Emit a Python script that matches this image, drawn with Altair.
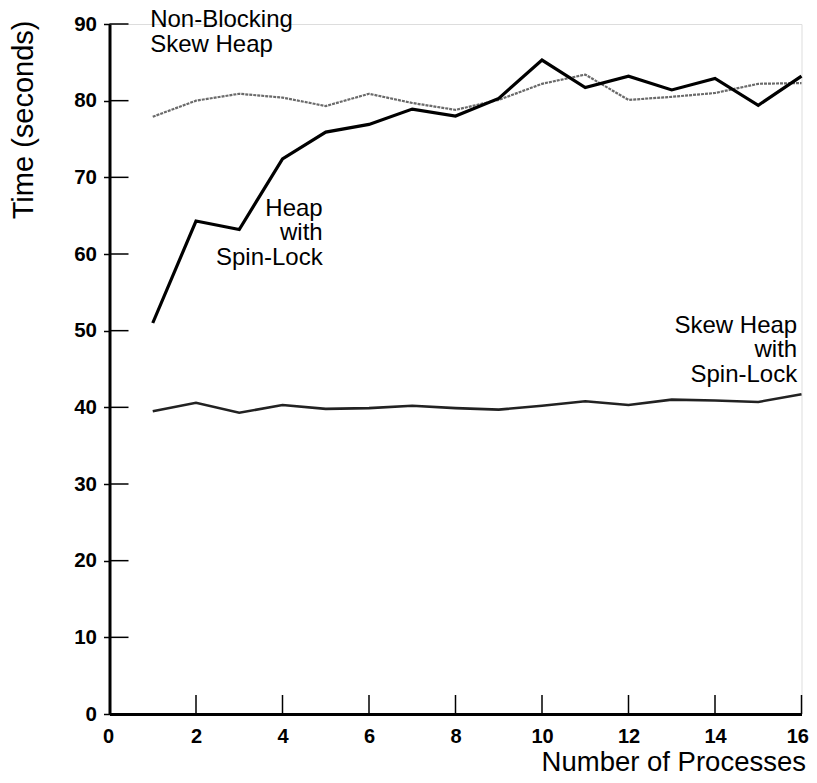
import altair as alt
import pandas as pd

# ---- data ----
processes = list(range(1, 17))
heap_spin = [51.0, 64.3, 63.2, 72.4, 75.9, 76.9, 78.9, 78.0, 80.3, 85.3, 81.7, 83.2, 81.4, 82.9, 79.4, 83.2]
nonblocking = [77.9, 80.0, 80.9, 80.4, 79.3, 80.9, 79.7, 78.8, 80.1, 82.2, 83.4, 80.1, 80.5, 81.0, 82.2, 82.3]
skew_spin = [39.5, 40.6, 39.3, 40.3, 39.8, 39.9, 40.2, 39.9, 39.7, 40.2, 40.8, 40.3, 41.0, 40.9, 40.7, 41.7]

y_ticks = [0, 10, 20, 30, 40, 50, 60, 70, 80, 90]
x_ticks = [0, 2, 4, 6, 8, 10, 12, 14, 16]

left_labels = ["Non-Blocking\nSkew Heap"]
left_x = [0.94]
left_y = [89.6]
right_labels = ["Heap\nwith\nSpin-Lock", "Skew Heap\nwith\nSpin-Lock"]
right_x = [4.93, 15.9]
right_y = [65.0, 49.7]

FONT = "Liberation Sans"

xscale = alt.Scale(domain=[0, 16], nice=False, zero=False)
yscale = alt.Scale(domain=[0, 90], nice=False)

x_axis = alt.Axis(values=x_ticks, grid=False, tickSize=0, domainWidth=3, domainColor="black",
                  labelFont=FONT, labelFontSize=20, labelFontWeight="bold", labelColor="black",
                  labelPadding=12, labelFlush=True, labelFlushOffset=7,
                  title="Number of Processes", titleFont=FONT, titleFontSize=27.5,
                  titleFontWeight="normal", titleColor="black", titleAlign="right", titleAnchor="end",
                  titleX=696, titleY=56, titleBaseline="alphabetic")
y_axis = alt.Axis(values=y_ticks, grid=False, tickSize=6, tickWidth=1.5, tickColor="black",
                  domainWidth=3, domainColor="black",
                  labelFont=FONT, labelFontSize=20.5, labelFontWeight="bold", labelColor="black",
                  labelPadding=7, title="Time (seconds)", titleFont=FONT, titleFontSize=29,
                  titleFontWeight="normal", titleColor="black", titleAngle=-90, titleAlign="right",
                  titleBaseline="middle", titleX=-86, titleY=-4)

def series(vals):
    return pd.DataFrame({"x": processes, "y": vals})

base_x = alt.X("x:Q", scale=xscale, axis=x_axis)
base_y = alt.Y("y:Q", scale=yscale, axis=y_axis)

nb = alt.Chart(series(nonblocking)).mark_line(color="#6a6a6a", strokeWidth=2.2, strokeDash=[3, 1]).encode(
    x=base_x, y=base_y)
hs = alt.Chart(series(heap_spin)).mark_line(color="black", strokeWidth=3.2).encode(
    x=alt.X("x:Q", scale=xscale), y=alt.Y("y:Q", scale=yscale))
ss = alt.Chart(series(skew_spin)).mark_line(color="#222222", strokeWidth=2.6).encode(
    x=alt.X("x:Q", scale=xscale), y=alt.Y("y:Q", scale=yscale))

yt = alt.Chart(pd.DataFrame({"v": y_ticks[1:]})).mark_rule(color="black", strokeWidth=1.5).encode(
    y=alt.Y("v:Q", scale=yscale), x=alt.value(0), x2=alt.value(19))
xt = alt.Chart(pd.DataFrame({"v": x_ticks[1:]})).mark_rule(color="black", strokeWidth=1.5).encode(
    x=alt.X("v:Q", scale=xscale), y=alt.value(690), y2=alt.value(671))

lt = alt.Chart(pd.DataFrame({"x": left_x, "y": left_y, "t": left_labels})).mark_text(
    align="left", baseline="alphabetic", font=FONT, fontSize=24, lineBreak="\n", lineHeight=24.5,
    color="black").encode(x=alt.X("x:Q", scale=xscale), y=alt.Y("y:Q", scale=yscale), text="t:N")
rt = alt.Chart(pd.DataFrame({"x": right_x, "y": right_y, "t": right_labels})).mark_text(
    align="right", baseline="alphabetic", font=FONT, fontSize=24, lineBreak="\n", lineHeight=24.5,
    color="black").encode(x=alt.X("x:Q", scale=xscale), y=alt.Y("y:Q", scale=yscale), text="t:N")

chart = alt.layer(nb, hs, ss, yt, xt, lt, rt).properties(
    width=692, height=690,
    autosize=alt.AutoSizeParams(type="none"),
    padding={"left": 101.5, "top": 16, "right": 7.5, "bottom": 60},
).configure_view(stroke=None).configure(background="white")

chart.save("out.html", embed_options={"renderer": "svg", "actions": False})
